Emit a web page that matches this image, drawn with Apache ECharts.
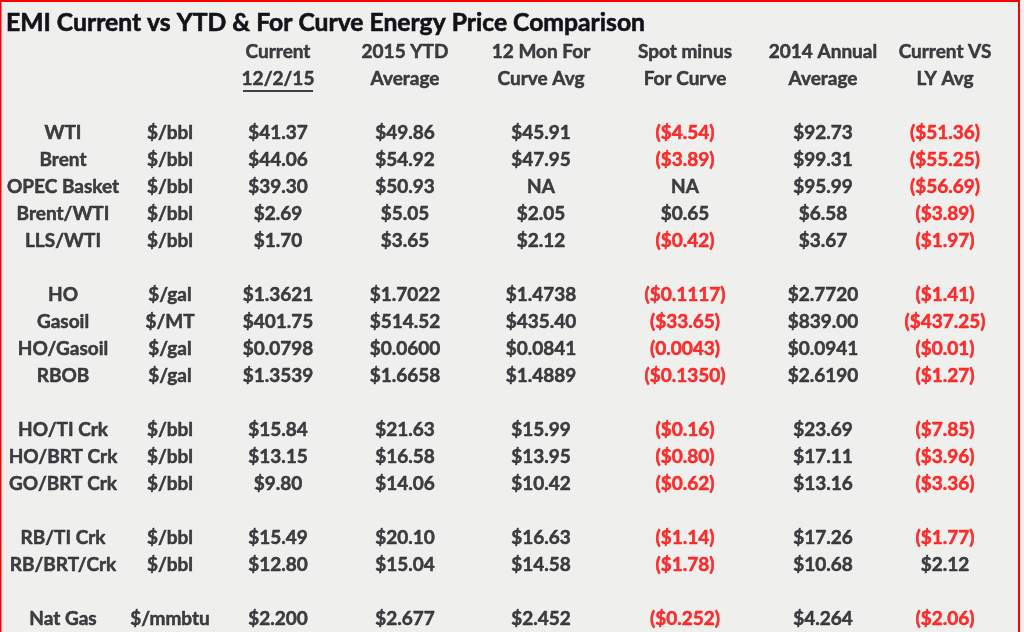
<!DOCTYPE html>
<html>
<head>
<meta charset="utf-8">
<script src="https://cdn.jsdelivr.net/npm/echarts@6/dist/echarts.min.js"></script>
<style>
  html, body { margin: 0; padding: 0; background: #efefed; }
  #main { width: 1024px; height: 632px; }
</style>
</head>
<body>
<div id="main"></div>
<script>
// table content, one array per column (null = spacer row)
const products = ['WTI', 'Brent', 'OPEC Basket', 'Brent/WTI', 'LLS/WTI', null,
  'HO', 'Gasoil', 'HO/Gasoil', 'RBOB', null,
  'HO/TI Crk', 'HO/BRT Crk', 'GO/BRT Crk', null,
  'RB/TI Crk', 'RB/BRT/Crk', null,
  'Nat Gas']
const units = ['$/bbl', '$/bbl', '$/bbl', '$/bbl', '$/bbl', null,
  '$/gal', '$/MT', '$/gal', '$/gal', null,
  '$/bbl', '$/bbl', '$/bbl', null,
  '$/bbl', '$/bbl', null,
  '$/mmbtu']
const decimals = [2, 2, 2, 2, 2, null, 4, 2, 4, 4, null, 2, 2, 2, null, 2, 2, null, 3]
const current = [41.37, 44.06, 39.30, 2.69, 1.70, null,
  1.3621, 401.75, 0.0798, 1.3539, null,
  15.84, 13.15, 9.80, null, 15.49, 12.80, null, 2.200]
const ytd2015 = [49.86, 54.92, 50.93, 5.05, 3.65, null,
  1.7022, 514.52, 0.0600, 1.6658, null,
  21.63, 16.58, 14.06, null, 20.10, 15.04, null, 2.677]
const forCurve = [45.91, 47.95, 'NA', 2.05, 2.12, null,
  1.4738, 435.40, 0.0841, 1.4889, null,
  15.99, 13.95, 10.42, null, 16.63, 14.58, null, 2.452]
const spotMinusCurve = [-4.54, -3.89, 'NA', 0.65, -0.42, null,
  -0.1117, -33.65, -0.0043, -0.1350, null,
  -0.16, -0.80, -0.62, null, -1.14, -1.78, null, -0.252]
const annual2014 = [92.73, 99.31, 95.99, 6.58, 3.67, null,
  2.7720, 839.00, 0.0941, 2.6190, null,
  23.69, 17.11, 13.16, null, 17.26, 10.68, null, 4.264]
const vsLastYear = [-51.36, -55.25, -56.69, -3.89, -1.97, null,
  -1.41, -437.25, -0.01, -1.27, null,
  -7.85, -3.96, -3.36, null, -1.77, 2.12, null, -2.06]
const noDollarSpot = ['HO/Gasoil']

const headerTop = ['', '', 'Current', '2015 YTD', '12 Mon For', 'Spot minus', '2014 Annual', 'Current VS']
const headerBottom = ['', '', '12/2/15', 'Average', 'Curve Avg', 'For Curve', 'Average', 'LY Avg']

// layout
const colWidths = [126, 88, 128, 126, 146, 142, 134, 110]
const colCenters = []
colWidths.reduce((acc, w) => { colCenters.push(acc + w / 2); return acc + w }, 0)
const headerRows = 3
const rowCount = headerRows + products.length
const rowNames = []
for (let i = 0; i < rowCount; i++) rowNames.push('r' + i)

const dark = '#121318'
const red = '#ff0000'

function money (v, d, dollar) {
  if (typeof v === 'string') return v
  const s = (dollar === false ? '' : '$') + Math.abs(v).toFixed(d)
  return v < 0 ? '(' + s + ')' : s
}

let cells = []
headerTop.forEach((t, c) => { if (t) cells.push({ value: [colCenters[c], 0], text: t, color: dark }) })
headerBottom.forEach((t, c) => { if (t) cells.push({ value: [colCenters[c], 1], text: t, color: dark }) })

products.forEach((p, i) => {
  if (p === null) return
  const r = headerRows + i
  const d = decimals[i]
  cells.push({ value: [colCenters[0], r], text: p, color: dark })
  cells.push({ value: [colCenters[1], r], text: units[i], color: dark })
  cells.push({ value: [colCenters[2], r], text: money(current[i], d), color: dark })
  cells.push({ value: [colCenters[3], r], text: money(ytd2015[i], d), color: dark })
  cells.push({ value: [colCenters[4], r], text: money(forCurve[i], d), color: dark })
  cells.push({
    value: [colCenters[5], r],
    text: money(spotMinusCurve[i], d, noDollarSpot.indexOf(p) < 0),
    color: spotMinusCurve[i] < 0 ? red : dark
  })
  cells.push({ value: [colCenters[6], r], text: money(annual2014[i], d), color: dark })
  cells.push({ value: [colCenters[7], r], text: money(vsLastYear[i], 2), color: vsLastYear[i] < 0 ? red : dark })
})

let myChart = echarts.init(document.getElementById('main'))
myChart.setOption({
  backgroundColor: '#efefed',
  animation: false,
  title: {
    text: 'EMI Current vs YTD & For Curve Energy Price Comparison',
    left: 1,
    top: 6,
    textStyle: {
      fontFamily: 'Lato',
      fontWeight: 'bold',
      fontSize: 24.7,
      color: dark,
      textBorderColor: dark,
      textBorderWidth: 0.6
    }
  },
  grid: {
    left: 0,
    width: 1024,
    top: 38.5,
    height: 27.1 * rowCount
  },
  xAxis: {
    type: 'value',
    min: 0,
    max: 1024,
    show: false
  },
  yAxis: {
    type: 'category',
    data: rowNames,
    inverse: true,
    show: false
  },
  series: [
    {
      type: 'scatter',
      symbolSize: 0,
      silent: true,
      data: cells.map(c => ({
        value: c.value,
        label: { formatter: c.text, color: c.color, textBorderColor: c.color }
      })),
      label: {
        show: true,
        position: 'inside',
        fontFamily: 'Lato',
        fontWeight: 'bold',
        fontSize: 19,
        textBorderWidth: 0.5
      }
    },
    {
      // underline under the date header
      type: 'scatter',
      symbol: 'rect',
      symbolSize: [70, 2],
      symbolOffset: [0, 12],
      silent: true,
      itemStyle: { color: dark },
      data: [[colCenters[2], 1]]
    }
  ],
  graphic: [
    {
      type: 'rect',
      silent: true,
      shape: { x: 0.5, y: 1, width: 1018.5, height: 660 },
      style: { fill: 'none', stroke: red, lineWidth: 2 }
    }
  ]
})
</script>
</body>
</html>
